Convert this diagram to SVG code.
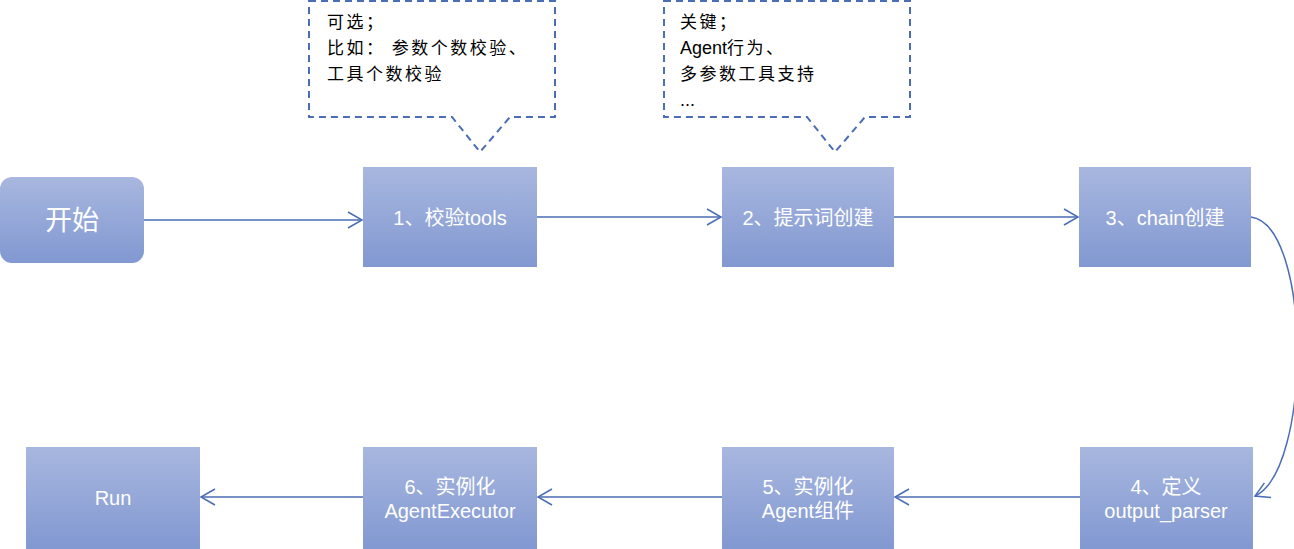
<svg xmlns="http://www.w3.org/2000/svg" width="1294" height="549" viewBox="0 0 1294 549">
<defs>
<linearGradient id="g" x1="0" y1="0" x2="0" y2="1">
<stop offset="0" stop-color="#A8B7DF"/>
<stop offset="1" stop-color="#8198D1"/>
</linearGradient>
<marker id="ah" viewBox="0 0 18 18" refX="15" refY="9" markerWidth="18" markerHeight="18" markerUnits="userSpaceOnUse" orient="auto">
<path d="M1,1 L15,9 L1,17" fill="none" stroke="#4A6DB5" stroke-width="1.5"/>
</marker>
<style>
.box{fill:url(#g);}
.lbl{fill:#ffffff;font-family:"Liberation Sans","Noto Sans CJK SC",sans-serif;font-size:20px;text-anchor:middle;}
.call{fill:#ffffff;stroke:#4A6DB5;stroke-width:2;stroke-dasharray:7 5;}
.ct{fill:#000000;font-family:"Noto Sans CJK SC","Liberation Sans",sans-serif;font-size:17px;letter-spacing:2.5px;}
.lat{font-family:"Liberation Sans","Noto Sans CJK SC",sans-serif;font-size:18px;letter-spacing:0;}
.con{fill:none;stroke:#4A6DB5;stroke-width:1.5;marker-end:url(#ah);}
</style>
</defs>
<rect width="1294" height="549" fill="#ffffff"/>
<g id="callout1">
<path class="call" d="M309,1 L555,1 L555,117 L510,117 L480,152 L452,117 L309,117 Z"/>
<text class="ct" x="327" y="28">可选；</text>
<text class="ct" x="327" y="54">比如： 参数个数校验、</text>
<text class="ct" x="327" y="80">工具个数校验</text>
</g>
<g id="callout2">
<path class="call" d="M664,1 L910,1 L910,117 L865,117 L835,152 L807,117 L664,117 Z"/>
<text class="ct" x="680" y="28">关键；</text>
<text class="ct" x="680" y="54"><tspan class="lat">Agent</tspan>行为、</text>
<text class="ct" x="680" y="80">多参数工具支持</text>
<text class="ct" x="680" y="106"><tspan class="lat">...</tspan></text>
</g>
<g id="start">
<rect class="box" x="0" y="177" width="144" height="86" rx="12"/>
<text class="lbl" x="72" y="230" style="font-size:27px">开始</text>
</g>
<g id="n1">
<rect class="box" x="363" y="167" width="174" height="100"/>
<text class="lbl" x="450" y="225">1、校验tools</text>
</g>
<g id="n2">
<rect class="box" x="722" y="167" width="172" height="100"/>
<text class="lbl" x="808" y="225">2、提示词创建</text>
</g>
<g id="n3">
<rect class="box" x="1079" y="167" width="172" height="100"/>
<text class="lbl" x="1165" y="225">3、chain创建</text>
</g>
<g id="n4">
<rect class="box" x="1080" y="447" width="173" height="102"/>
<text class="lbl" x="1166" y="494">4、定义</text>
<text class="lbl" x="1166" y="518">output_parser</text>
</g>
<g id="n5">
<rect class="box" x="722" y="447" width="172" height="102"/>
<text class="lbl" x="808" y="494">5、实例化</text>
<text class="lbl" x="808" y="518">Agent组件</text>
</g>
<g id="n6">
<rect class="box" x="363" y="447" width="174" height="102"/>
<text class="lbl" x="450" y="494">6、实例化</text>
<text class="lbl" x="450" y="518">AgentExecutor</text>
</g>
<g id="run">
<rect class="box" x="26" y="447" width="174" height="102"/>
<text class="lbl" x="113" y="505">Run</text>
</g>
<g id="connectors">
<path class="con" d="M144,220 L362,220"/>
<path class="con" d="M537,217 L721,217"/>
<path class="con" d="M894,217 L1078,217"/>
<path class="con" d="M1251,217 C1312,225 1312,470 1255,496"/>
<path class="con" d="M1080,497 L895,497"/>
<path class="con" d="M722,497 L538,497"/>
<path class="con" d="M363,497 L201,497"/>
</g>
</svg>
